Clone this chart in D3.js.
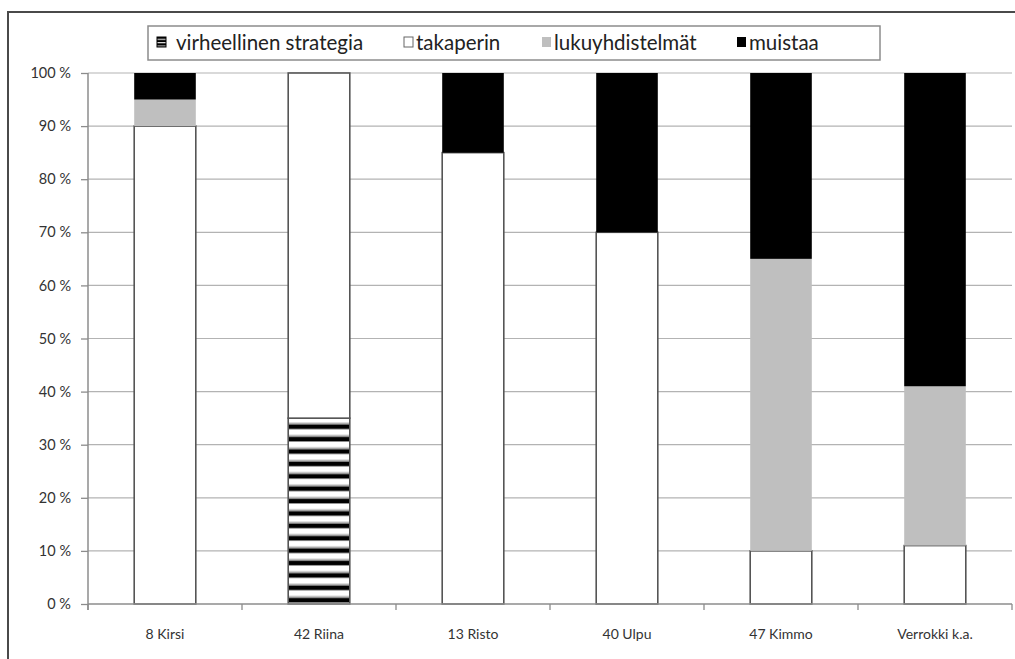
<!DOCTYPE html>
<html>
<head>
<meta charset="utf-8">
<script src="https://cdn.jsdelivr.net/npm/d3@7"></script>
<style>
  html, body { margin: 0; padding: 0; background: #fff; }
  svg { display: block; font-family: Lato, "Open Sans", sans-serif; }
</style>
</head>
<body>
<svg id="chart" width="1015" height="659"></svg>
<script>
// Oppilaiden strategiat (%)
const categories = ["8 Kirsi", "42 Riina", "13 Risto", "40 Ulpu", "47 Kimmo", "Verrokki k.a."];
const virheellinen = [0, 35, 0, 0, 0, 0];
const takaperin = [90, 65, 85, 70, 10, 11];
const lukuyhdistelmat = [5, 0, 0, 0, 55, 30];
const muistaa = [5, 0, 15, 30, 35, 59];
const seriesNames = ["virheellinen strategia", "takaperin", "lukuyhdistelmät", "muistaa"];
const yTicks = [0, 10, 20, 30, 40, 50, 60, 70, 80, 90, 100];

const keys = ["virheellinen", "takaperin", "lukuyhdistelmat", "muistaa"];
const rows = categories.map((c, i) => ({
  cat: c,
  virheellinen: virheellinen[i],
  takaperin: takaperin[i],
  lukuyhdistelmat: lukuyhdistelmat[i],
  muistaa: muistaa[i]
}));

const svg = d3.select("#chart");
const W = 1015, H = 659;
const plot = { left: 88, right: 1012, top: 73, bottom: 604 };

const x = d3.scaleBand().domain(categories)
  .range([plot.left, plot.right]).paddingInner(0.6).paddingOuter(0.3);
const y = d3.scaleLinear().domain([0, 100]).range([plot.bottom, plot.top]);

// striped fill for the "virheellinen strategia" series
const defs = svg.append("defs");
const period = (y(0) - y(35)) / 15;
const pat = defs.append("pattern")
  .attr("id", "stripes")
  .attr("patternUnits", "userSpaceOnUse")
  .attr("x", 0).attr("y", y(35))
  .attr("width", 20).attr("height", period);
pat.append("rect").attr("width", 20).attr("height", period).attr("fill", "#fff");
pat.append("rect").attr("y", period * 0.36).attr("width", 20).attr("height", 1).attr("fill", "#999");
pat.append("rect").attr("y", period * 0.5).attr("width", 20).attr("height", period * 0.38).attr("fill", "#000");

const legPat = defs.append("pattern")
  .attr("id", "legstripes")
  .attr("patternUnits", "userSpaceOnUse")
  .attr("x", 0).attr("y", 37).attr("width", 10).attr("height", 3.4);
legPat.append("rect").attr("width", 10).attr("height", 3.4).attr("fill", "#000");
legPat.append("rect").attr("y", 1.8).attr("width", 10).attr("height", 1).attr("fill", "#fff");

// outer frame
svg.append("path")
  .attr("d", `M8,${H} L8,12 L${W},12`)
  .attr("fill", "none").attr("stroke", "#4a4a4a").attr("stroke-width", 2);

// gridlines
svg.append("g").selectAll("line").data(yTicks.filter(t => t > 0)).join("line")
  .attr("x1", plot.left).attr("x2", plot.right)
  .attr("y1", d => y(d)).attr("y2", d => y(d))
  .attr("stroke", "#b3b3b3").attr("stroke-width", 1.2);

// stacked bars
const fills = {
  virheellinen: "url(#stripes)",
  takaperin: "#fff",
  lukuyhdistelmat: "#bfbfbf",
  muistaa: "#000"
};
const outlined = { virheellinen: true, takaperin: true };
const stacked = d3.stack().keys(keys)(rows);
const bw = x.bandwidth();

stacked.forEach(layer => {
  const g = svg.append("g");
  layer.forEach(seg => {
    const v = seg[1] - seg[0];
    if (v <= 0) return;
    const x0 = x(seg.data.cat);
    const y0 = y(seg[1]);
    const h = y(seg[0]) - y(seg[1]);
    g.append("rect")
      .attr("x", x0).attr("y", y0).attr("width", bw).attr("height", h)
      .attr("fill", fills[layer.key]);
    if (outlined[layer.key]) {
      g.append("rect")
        .attr("x", x0).attr("y", y0).attr("width", bw).attr("height", h)
        .attr("fill", "none").attr("stroke", "#555").attr("stroke-width", 1.6);
    }
  });
});

// y axis
const yAxis = d3.axisLeft(y).tickValues(yTicks).tickFormat(d => d + " %").tickSize(7).tickSizeOuter(0);
const gy = svg.append("g").attr("transform", `translate(${plot.left},0)`).call(yAxis);
gy.select(".domain").attr("stroke", "#8c8c8c").attr("stroke-width", 1.5)
  .attr("d", `M0,${plot.top}V${plot.bottom + 6}`);
gy.selectAll(".tick line").attr("stroke", "#8c8c8c").attr("stroke-width", 1.3);
gy.selectAll(".tick text")
  .attr("x", -17).attr("fill", "#333").style("font-size", "14.5px")
  .style("font-family", "Lato, 'Open Sans', sans-serif");

// x axis with ticks at category boundaries
const gx = svg.append("g").attr("transform", `translate(0,${plot.bottom})`);
gx.append("line").attr("x1", plot.left).attr("x2", plot.right)
  .attr("stroke", "#8c8c8c").attr("stroke-width", 1.5);
const edgeX = categories.map(c => x(c) + bw / 2 - x.step() / 2).concat([plot.right]);
gx.selectAll("line.tk").data(edgeX).join("line").attr("class", "tk")
  .attr("x1", d => d).attr("x2", d => d).attr("y1", 0).attr("y2", 6)
  .attr("stroke", "#8c8c8c").attr("stroke-width", 1.3);
gx.selectAll("text").data(categories).join("text")
  .attr("x", d => x(d) + bw / 2).attr("y", 35)
  .attr("text-anchor", "middle").attr("fill", "#333")
  .style("font-size", "14px").text(d => d);

// legend
const leg = svg.append("g");
leg.append("rect").attr("x", 148).attr("y", 26).attr("width", 732).attr("height", 34)
  .attr("fill", "#fff").attr("stroke", "#8c8c8c").attr("stroke-width", 1.5);
const legItems = [
  { sx: 157, tx: 176, fill: "url(#legstripes)", stroke: "#000" },
  { sx: 404, tx: 416, fill: "#fff", stroke: "#666" },
  { sx: 542, tx: 554, fill: "#bfbfbf", stroke: "none" },
  { sx: 737, tx: 749, fill: "#000", stroke: "none" }
];
legItems.forEach((it, i) => {
  leg.append("rect").attr("x", it.sx).attr("y", 37).attr("width", 9).attr("height", 10)
    .attr("fill", it.fill).attr("stroke", it.stroke).attr("stroke-width", it.stroke === "none" ? 0 : 1);
  leg.append("text").attr("x", it.tx).attr("y", 50)
    .attr("fill", "#222").style("font-size", "20.5px").text(seriesNames[i]);
});
</script>
</body>
</html>
